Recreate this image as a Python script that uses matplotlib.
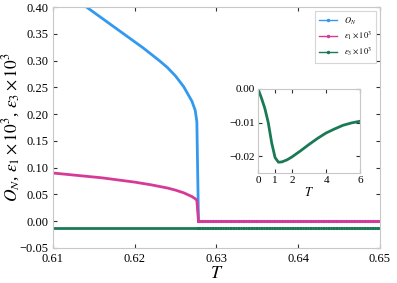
import numpy as np
import matplotlib
matplotlib.use('Agg')
import matplotlib.pyplot as plt
from matplotlib.lines import Line2D

plt.rcParams['font.family'] = 'Liberation Serif'
plt.rcParams['mathtext.fontset'] = 'stix'

# ordered phase (T < Tc)
T_low = [0.610, 0.611, 0.612, 0.613, 0.614, 0.615, 0.616, 0.617, 0.618, 0.619,
         0.620, 0.621, 0.622, 0.623, 0.624, 0.625, 0.626, 0.627, 0.6274, 0.6276, 0.6278]
O_low = [0.443, 0.432, 0.422, 0.411, 0.401, 0.390, 0.379, 0.368, 0.357, 0.346,
         0.335, 0.324, 0.312, 0.300, 0.287, 0.271, 0.251, 0.224, 0.207, 0.186, 0.0]
e1_low = [0.090, 0.0885, 0.087, 0.0855, 0.084, 0.0825, 0.081, 0.079, 0.077, 0.075,
          0.073, 0.0705, 0.068, 0.065, 0.062, 0.058, 0.053, 0.046, 0.042, 0.039, 0.0]
e3_low = [-0.013] * len(T_low)

# disordered phase (T > Tc)
T_high = list(np.round(np.arange(0.6278, 0.65005, 0.0002), 4))
O_high = [0.0] * len(T_high)
e1_high = [0.0] * len(T_high)
e3_high = [-0.013] * len(T_high)

# inset: eps_3 x 10^3 over wide T range
T_in = [0, 0.2, 0.4, 0.6, 0.8, 1.0, 1.2, 1.4, 1.7, 2.0, 2.5, 3.0, 3.5, 4.0, 4.5, 5.0, 5.5, 6.0]
e3_in = [0, -0.0027, -0.0058, -0.0100, -0.0160, -0.0204, -0.0218, -0.0217, -0.0211,
         -0.0202, -0.0184, -0.0165, -0.0147, -0.0131, -0.0119, -0.0108, -0.0101, -0.0096]

blue = '#3399ee'
pink = '#d63a96'
green = '#1a7a55'

fig = plt.figure(figsize=(3.97, 2.83), dpi=100)
ax = fig.add_axes([0.1335, 0.1237, 0.8235, 0.8515])

series = [(O_low, O_high, blue, r'$O_N$'),
          (e1_low, e1_high, pink, r'$\varepsilon_1\times10^3$'),
          (e3_low, e3_high, green, r'$\varepsilon_3\times10^3$')]
handles = []
for low, high, c, lab in series:
    ax.plot(T_low, low, color=c, lw=2)
    ax.plot(T_high, high, color=c, marker='.', markersize=2.5, lw=1)
    handles.append(Line2D([], [], color=c, marker='.', markersize=3, lw=1, label=lab))

ax.set_xlim(0.61, 0.65)
ax.set_ylim(-0.05, 0.40)
ax.set_xticks([0.61, 0.62, 0.63, 0.64, 0.65])
ax.set_yticks(np.arange(-0.05, 0.401, 0.05))
ax.set_xlabel(r'$T$', fontsize=13, labelpad=0)
ax.set_ylabel(r'$O_N$, $\varepsilon_1\times10^3$, $\varepsilon_3\times10^3$', fontsize=12.5)
ax.yaxis.set_label_coords(-0.095, 0.5)
ax.tick_params(direction='in', top=True, right=True, labelsize=9, length=3, color='#333333')
for s in ax.spines.values():
    s.set_color('#c8c8c8')

leg = ax.legend(handles=handles, loc='upper right', fontsize=6, frameon=True, fancybox=False,
                handlelength=2.2, borderpad=0.5, labelspacing=0.4)
leg.get_frame().set_edgecolor('#cccccc')
leg.get_frame().set_linewidth(0.8)

axin = fig.add_axes([0.650, 0.3887, 0.257, 0.297])
axin.plot(T_in, e3_in, color=green, lw=2)
axin.set_xlim(0, 6)
axin.set_ylim(-0.025, 0.0)
axin.set_xticks([0, 1, 2, 4, 6])
axin.set_yticks([0.0, -0.01, -0.02])
axin.set_yticklabels(['0.00', '\u22120.01', '\u22120.02'])
axin.set_xlabel(r'$T$', fontsize=9, labelpad=1)
axin.tick_params(direction='in', top=True, right=True, labelsize=8, length=3, color='#333333', pad=2)
for s in axin.spines.values():
    s.set_color('#c8c8c8')

fig.savefig('out.png', dpi=100)
